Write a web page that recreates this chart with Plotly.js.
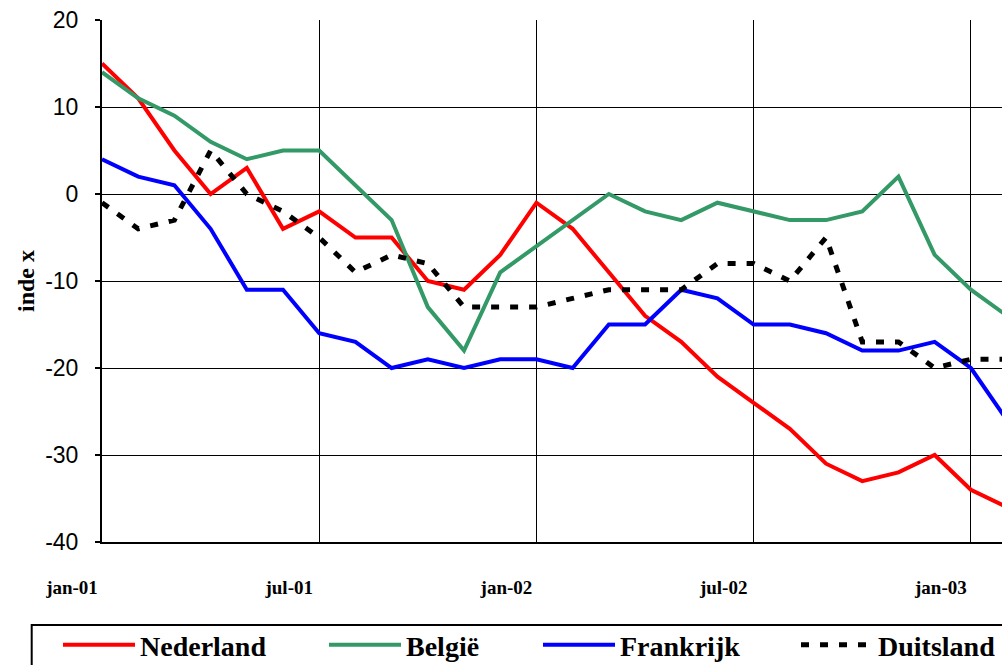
<!DOCTYPE html>
<html>
<head>
<meta charset="utf-8">
<script src="https://cdn.plot.ly/plotly-3.0.1.min.js"></script>
<style>html,body{margin:0;padding:0;background:#fff;}#chart{width:1002px;height:665px;}</style>
</head>
<body>
<div id="chart"></div>
<script>
const months = ['jan-01','feb-01','mrt-01','apr-01','mei-01','jun-01','jul-01','aug-01','sep-01','okt-01','nov-01','dec-01',
                'jan-02','feb-02','mrt-02','apr-02','mei-02','jun-02','jul-02','aug-02','sep-02','okt-02','nov-02','dec-02',
                'jan-03','feb-03'];
const tickLabels = ['jan-01','jul-01','jan-02','jul-02','jan-03'];
const yTickVals = [-40, -30, -20, -10, 0, 10, 20];
const yTickText = ['-40', '-30', '-20', '-10', '0', '10', '20'];
const nederland = [15, 11, 5, 0, 3, -4, -2, -5, -5, -10, -11, -7, -1, -4, -9, -14, -17, -21, -24, -27, -31, -33, -32, -30, -34, -36];
const belgie    = [14, 11, 9, 6, 4, 5, 5, 1, -3, -13, -18, -9, -6, -3, 0, -2, -3, -1, -2, -3, -3, -2, 2, -7, -11, -14];
const frankrijk = [4, 2, 1, -4, -11, -11, -16, -17, -20, -19, -20, -19, -19, -20, -15, -15, -11, -12, -15, -15, -16, -18, -18, -17, -20, -26];
const duitsland = [-1, -4, -3, 5, 0, -2, -5, -9, -7, -8, -13, -13, -13, -12, -11, -11, -11, -8, -8, -10, -5, -17, -17, -20, -19, -19];

const legendFont = {family: 'Liberation Serif', size: 28, weight: 'bold', color: '#000'};
function legendAt(px) {
  return {x: (px - 102) / 900, y: (542 - 620) / 522, xanchor: 'left', yanchor: 'top', orientation: 'h',
          bgcolor: 'rgba(0,0,0,0)', borderwidth: 0, itemwidth: 72, font: legendFont};
}

const traces = [
  {x: months, y: nederland, name: 'Nederland', type: 'scatter', mode: 'lines', line: {color: '#FF0000', width: 4}, legend: 'legend'},
  {x: months, y: belgie, name: 'België', type: 'scatter', mode: 'lines', line: {color: '#339966', width: 4}, legend: 'legend2'},
  {x: months, y: frankrijk, name: 'Frankrijk', type: 'scatter', mode: 'lines', line: {color: '#0000FF', width: 4}, legend: 'legend3'},
  {x: months, y: duitsland, name: 'Duitsland', type: 'scatter', mode: 'lines', line: {color: '#000000', width: 5, dash: '8px,11px'}, legend: 'legend4'}
];

const layout = {
  width: 1002, height: 665,
  margin: {l: 102, r: 0, t: 20, b: 123, autoexpand: false},
  paper_bgcolor: '#fff', plot_bgcolor: '#fff',
  showlegend: true,
  xaxis: {
    type: 'category', categoryorder: 'array', categoryarray: months,
    range: [0, 24.86],
    tickvals: tickLabels, ticktext: tickLabels,
    showgrid: true, gridcolor: '#000', gridwidth: 1,
    showline: true, linecolor: '#000', linewidth: 2,
    ticks: '', ticklabelshift: -30, ticklabelstandoff: 27,
    tickfont: {family: 'Liberation Serif', size: 19, weight: 'bold', color: '#000'},
    zeroline: false, automargin: false, fixedrange: true
  },
  yaxis: {
    range: [-40, 20], tickmode: 'array', tickvals: yTickVals, ticktext: yTickText,
    showgrid: true, gridcolor: '#000', gridwidth: 1,
    showline: true, linecolor: '#000', linewidth: 2,
    ticks: 'outside', ticklen: 5, tickcolor: '#000', tickwidth: 2,
    ticklabelstandoff: 12,
    tickfont: {family: 'Liberation Sans', size: 23, color: '#000'},
    title: {text: 'inde x', font: {family: 'Liberation Serif', size: 24, weight: 'bold', color: '#000'}, standoff: 4},
    zeroline: false, automargin: false, fixedrange: true
  },
  legend: legendAt(58),
  legend2: legendAt(324),
  legend3: legendAt(538),
  legend4: legendAt(796),
  shapes: [
    {type: 'rect', xref: 'paper', yref: 'paper', x0: (31.7 - 102) / 900, x1: 1.05, y0: (542 - 625) / 522, y1: -0.5,
     line: {color: '#000', width: 2}, fillcolor: 'rgba(0,0,0,0)', layer: 'below'}
  ]
};

Plotly.newPlot('chart', traces, layout, {displayModeBar: false, staticPlot: true});
</script>
</body>
</html>
